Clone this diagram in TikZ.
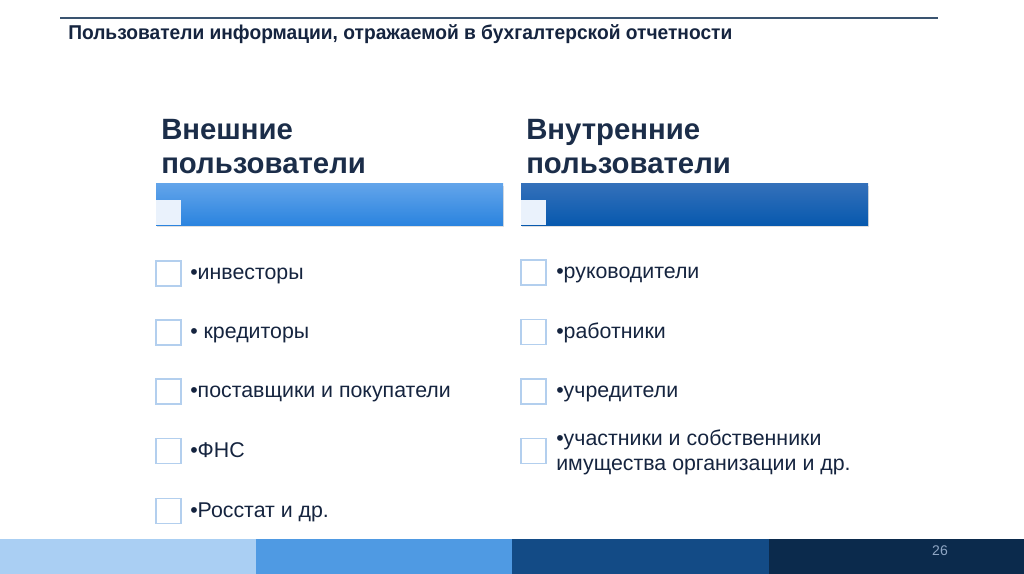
\documentclass[tikz,border=0pt]{standalone}
\usepackage{fontspec}
\setmainfont{Liberation Sans}
\usetikzlibrary{shadows}
\definecolor{navy}{HTML}{15243F}
\definecolor{headc}{HTML}{1B2D49}
\definecolor{rule}{HTML}{3A5470}
\definecolor{boxedge}{HTML}{B3CFEE}
\definecolor{barAtop}{HTML}{62A4EA}
\definecolor{barAbot}{HTML}{2B84DF}
\definecolor{barBtop}{HTML}{3470BA}
\definecolor{barBbot}{HTML}{0759AE}
\definecolor{sqfill}{HTML}{EAF2FC}
\definecolor{footA}{HTML}{AACFF3}
\definecolor{footB}{HTML}{4F9AE3}
\definecolor{footC}{HTML}{134B86}
\definecolor{footD}{HTML}{0B2A4C}
\definecolor{pagenum}{HTML}{8FA6C4}
\tikzset{
  checkbox/.style={draw=boxedge, line width=0.8pt, fill=white, minimum width=18.75pt, minimum height=18.75pt, inner sep=0pt},
  itemtext/.style={anchor=base west, inner sep=0pt, text=navy, font=\fontsize{16pt}{19pt}\selectfont},
  headtext/.style={anchor=base west, inner sep=0pt, text=headc, font=\fontsize{22pt}{25.5pt}\selectfont\bfseries, align=left},
  barshadow/.style={drop shadow={shadow xshift=0.5pt, shadow yshift=-1.2pt, opacity=0.25, fill=black!50}}
}
\begin{document}
\begin{tikzpicture}[x=0.75pt, y=-0.75pt]
\useasboundingbox (0,0) rectangle (1024,574);
\fill[white] (0,0) rectangle (1024,574);
% top rule
\draw[rule, line width=1.1pt] (60,18) -- (938,18);
% title
\node[anchor=base west, inner sep=0pt, text=navy, font=\fontsize{15pt}{17pt}\selectfont\bfseries] (title) at (68,40)
  {\resizebox{498pt}{\height}{Пользователи информации, отражаемой в бухгалтерской отчетности}};
% headings
\node[headtext] (hl1) at (161,140) {Внешние};
\node[headtext] (hl2) at (161,174) {пользователи};
\node[headtext] (hr1) at (526,140) {Внутренние};
\node[headtext] (hr2) at (526,174) {пользователи};
% bars
\shade[barshadow, top color=barAtop, bottom color=barAbot] (156,184) rectangle (503,225);
\fill[sqfill] (156,200) rectangle (181,225);
\shade[barshadow, top color=barBtop, bottom color=barBbot] (521,184) rectangle (868,225);
\fill[sqfill] (521,200) rectangle (546,225);
\coordinate (barL) at (329,204);
\coordinate (barR) at (694,204);
% left items
\node[checkbox] (cl1) at (168.5,273.5) {};
\node[itemtext] (tl1) at (190,279) {•инвесторы};
\node[checkbox] (cl2) at (168.5,332.5) {};
\node[itemtext] (tl2) at (190,338) {• кредиторы};
\node[checkbox] (cl3) at (168.5,391.5) {};
\node[itemtext] (tl3) at (190,397) {•поставщики и покупатели};
\node[checkbox] (cl4) at (168.5,451) {};
\node[itemtext] (tl4) at (190,457) {•ФНС};
\node[checkbox] (cl5) at (168.5,511) {};
\node[itemtext] (tl5) at (190,517) {•Росстат и др.};
% right items
\node[checkbox] (cr1) at (533.5,272.5) {};
\node[itemtext] (tr1) at (556,278) {•руководители};
\node[checkbox] (cr2) at (533.5,332) {};
\node[itemtext] (tr2) at (556,338) {•работники};
\node[checkbox] (cr3) at (533.5,391.5) {};
\node[itemtext] (tr3) at (556,397) {•учредители};
\node[checkbox] (cr4) at (533.5,451) {};
\node[itemtext] (tr4a) at (556,445) {•участники и собственники};
\node[itemtext] (tr4b) at (556,470) {имущества организации и др.};
% footer
\fill[footA] (0,539) rectangle (256,574);
\fill[footB] (256,539) rectangle (512,574);
\fill[footC] (512,539) rectangle (769,574);
\fill[footD] (769,539) rectangle (1024,574);
\node[text=pagenum, inner sep=0pt, font=\fontsize{10.5pt}{12pt}\selectfont] (page) at (940,551) {26};
\end{tikzpicture}
\end{document}
